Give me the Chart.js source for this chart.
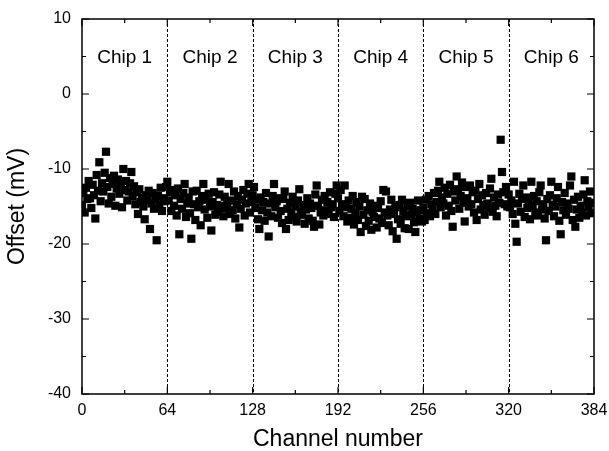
<!DOCTYPE html>
<html>
<head>
<meta charset="utf-8">
<script src="https://cdn.jsdelivr.net/npm/chart.js@4"></script>
<style>
  html, body { margin: 0; padding: 0; background: #fff; }
  #wrap { width: 609px; height: 451px; }
</style>
</head>
<body>
<div id="wrap"><canvas id="chart" width="609" height="451"></canvas></div>
<script>
// offsets per chip (mV), 64 channels each
const chip1 = [-14.8,-13.2,-15.8,-12.5,-14.0,-11.6,-13.9,-15.2,-12.1,-13.5,-16.6,-10.8,-12.9,-9.1,-14.3,-11.9,
  -13.0,-10.5,-7.7,-12.4,-14.6,-11.2,-13.7,-12.0,-10.9,-14.9,-12.6,-11.4,-13.3,-12.2,-15.1,-10.0,
  -12.8,-11.6,-14.2,-13.0,-11.9,-10.4,-13.6,-12.3,-14.7,-13.1,-16.0,-12.7,-14.4,-13.8,-15.0,-16.7,
  -13.5,-14.1,-12.9,-18.0,-14.6,-13.2,-15.3,-14.0,-19.5,-13.6,-14.8,-12.5,-15.6,-13.9,-14.3,-12.4];
const chip2 = [-11.7,-14.2,-13.1,-15.6,-12.8,-14.9,-13.5,-16.2,-12.6,-18.7,-14.0,-15.3,-13.2,-12.0,-16.4,-14.6,
  -13.8,-15.9,-19.3,-13.0,-14.7,-16.8,-12.9,-15.1,-14.3,-17.5,-13.6,-12.0,-15.4,-14.1,-16.5,-13.3,
  -15.0,-18.2,-14.4,-13.1,-16.1,-14.8,-15.7,-13.4,-11.7,-14.9,-16.3,-13.7,-15.2,-14.5,-12.0,-16.0,
  -14.2,-15.5,-13.0,-16.6,-14.7,-13.6,-17.8,-15.3,-14.1,-12.8,-16.2,-14.6,-13.3,-12.0,-15.8,-14.4];
const chip3 = [-13.5,-12.4,-15.2,-14.1,-16.7,-18.0,-13.8,-15.5,-14.4,-16.9,-13.2,-15.8,-19.0,-14.6,-16.3,-13.6,
  -12.0,-15.1,-14.3,-16.5,-13.9,-15.6,-17.2,-14.0,-13.0,-18.0,-15.3,-16.8,-14.5,-15.9,-13.7,-16.4,
  -15.0,-17.0,-14.2,-12.7,-15.7,-16.1,-14.8,-17.3,-15.4,-13.9,-16.6,-14.6,-15.2,-16.9,-17.7,-13.4,
  -12.2,-14.9,-17.4,-15.8,-14.1,-16.2,-13.6,-15.5,-14.4,-16.0,-13.1,-15.1,-14.7,-16.4,-13.3,-12.2];
const chip4 = [-13.9,-15.6,-12.8,-14.7,-16.3,-12.2,-15.1,-17.0,-14.2,-16.5,-15.3,-13.6,-17.4,-15.9,-14.4,-16.8,
  -15.0,-18.4,-13.7,-16.1,-14.0,-17.6,-15.5,-16.9,-14.6,-18.1,-15.7,-16.4,-14.9,-17.8,-15.2,-16.6,
  -14.3,-17.2,-12.8,-15.8,-13.0,-16.2,-17.5,-15.4,-14.1,-18.3,-16.0,-15.1,-19.3,-16.7,-14.8,-17.3,
  -14.1,-15.6,-17.9,-16.3,-15.0,-18.0,-14.5,-16.1,-15.3,-17.1,-18.4,-15.7,-14.2,-16.6,-15.5,-17.0];
const chip5 = [-15.2,-16.8,-14.1,-15.9,-13.6,-16.3,-14.7,-15.5,-13.2,-16.0,-14.4,-12.9,-11.7,-15.1,-13.8,-14.6,
  -12.5,-16.2,-13.3,-14.9,-12.1,-15.6,-17.7,-13.0,-14.2,-11.0,-12.7,-15.3,-13.6,-11.8,-14.5,-17.0,
  -12.4,-13.9,-15.0,-12.2,-14.7,-13.1,-15.8,-12.9,-16.8,-14.0,-12.0,-15.4,-13.5,-14.8,-16.1,-13.2,
  -14.6,-15.2,-12.6,-11.3,-15.7,-13.8,-14.9,-16.3,-13.4,-14.5,-6.1,-10.4,-13.1,-14.7,-12.4,-15.0];
const chip6 = [-13.4,-15.1,-14.2,-16.0,-11.7,-17.3,-19.7,-14.6,-13.3,-15.7,-14.0,-12.2,-16.4,-13.8,-15.2,-14.5,
  -16.7,-11.7,-14.9,-13.6,-15.8,-14.3,-16.2,-13.1,-12.2,-15.4,-14.7,-16.6,-19.5,-14.0,-15.6,-13.5,
  -11.7,-14.8,-16.3,-15.0,-13.9,-12.4,-16.9,-18.7,-14.4,-15.5,-13.2,-16.1,-14.6,-15.3,-12.2,-11.0,
  -16.8,-14.1,-17.7,-15.4,-13.7,-16.5,-14.9,-15.8,-13.4,-11.5,-16.2,-14.3,-15.1,-13.0,-15.9,-14.5];

const chipLabels = ['Chip 1', 'Chip 2', 'Chip 3', 'Chip 4', 'Chip 5', 'Chip 6'];
const chipBounds = [64, 128, 192, 256, 320];
const xTicks = [0, 64, 128, 192, 256, 320, 384];
const yTicks = [10, 0, -10, -20, -30, -40];

const offsets = [].concat(chip1, chip2, chip3, chip4, chip5, chip6);
const points = offsets.map((v, i) => ({ x: i, y: v }));

const FONT = 'Liberation Sans, Arial, Helvetica, sans-serif';

// frame, inward ticks, chip separators and labels
const framePlugin = {
    id: 'frame',
    beforeDatasetsDraw(chart) {
        const { ctx, chartArea: a, scales: { x, y } } = chart;
        ctx.save();
        ctx.strokeStyle = '#000';
        ctx.lineWidth = 1;
        ctx.setLineDash([3, 2]);
        chipBounds.forEach(b => {
            const px = Math.round(x.getPixelForValue(b)) + 0.5;
            ctx.beginPath();
            ctx.moveTo(px, a.top);
            ctx.lineTo(px, a.bottom);
            ctx.stroke();
        });
        ctx.setLineDash([]);
        ctx.fillStyle = '#000';
        ctx.font = '19px ' + FONT;
        ctx.textAlign = 'center';
        ctx.textBaseline = 'middle';
        chipLabels.forEach((t, i) => {
            ctx.fillText(t, x.getPixelForValue(32 + 64 * i), y.getPixelForValue(4.8));
        });
        ctx.restore();
    },
    afterDatasetsDraw(chart) {
        const { ctx, chartArea: a, scales: { x, y } } = chart;
        ctx.save();
        ctx.strokeStyle = '#000';
        ctx.lineWidth = 1.5;
        ctx.strokeRect(a.left, a.top, a.right - a.left, a.bottom - a.top);
        ctx.lineWidth = 1.2;
        ctx.beginPath();
        for (let v = 0; v <= 384; v += 32) {
            const px = x.getPixelForValue(v);
            const len = v % 64 === 0 ? 7 : 4;
            ctx.moveTo(px, a.bottom); ctx.lineTo(px, a.bottom - len);
            ctx.moveTo(px, a.top); ctx.lineTo(px, a.top + len);
        }
        for (let v = -40; v <= 10; v += 5) {
            const py = y.getPixelForValue(v);
            const len = v % 10 === 0 ? 7 : 4;
            ctx.moveTo(a.left, py); ctx.lineTo(a.left + len, py);
            ctx.moveTo(a.right, py); ctx.lineTo(a.right - len, py);
        }
        ctx.stroke();
        ctx.restore();
    }
};

new Chart(document.getElementById('chart'), {
    type: 'scatter',
    data: {
        datasets: [{
            data: points,
            pointStyle: 'rect',
            pointRadius: 5.8,
            pointHoverRadius: 5.8,
            borderWidth: 0,
            backgroundColor: '#000'
        }]
    },
    options: {
        responsive: false,
        animation: false,
        layout: { padding: { top: 19, right: 15, left: 0, bottom: 0 } },
        plugins: { legend: { display: false }, tooltip: { enabled: false } },
        scales: {
            x: {
                type: 'linear',
                min: 0,
                max: 384,
                afterBuildTicks: s => { s.ticks = xTicks.map(v => ({ value: v })); },
                grid: { display: false, drawTicks: false },
                border: { display: false },
                ticks: { color: '#000', padding: 7, font: { family: FONT, size: 16 } },
                title: { display: true, text: 'Channel number', color: '#000', padding: 0, font: { family: FONT, size: 23, lineHeight: 1 } },
                afterFit: s => { s.height = 57; s.paddingLeft = 0; s.paddingRight = 0; }
            },
            y: {
                min: -40,
                max: 10,
                afterBuildTicks: s => { s.ticks = yTicks.map(v => ({ value: v })); },
                grid: { display: false, drawTicks: false },
                border: { display: false },
                ticks: { color: '#000', padding: 11, font: { family: FONT, size: 16 } },
                title: { display: true, text: 'Offset (mV)', color: '#000', padding: { top: 6, bottom: 0 }, font: { family: FONT, size: 23, lineHeight: 1 } },
                afterFit: s => { s.width = 82; s.paddingTop = 0; s.paddingBottom = 0; }
            }
        }
    },
    plugins: [framePlugin]
});
</script>
</body>
</html>
